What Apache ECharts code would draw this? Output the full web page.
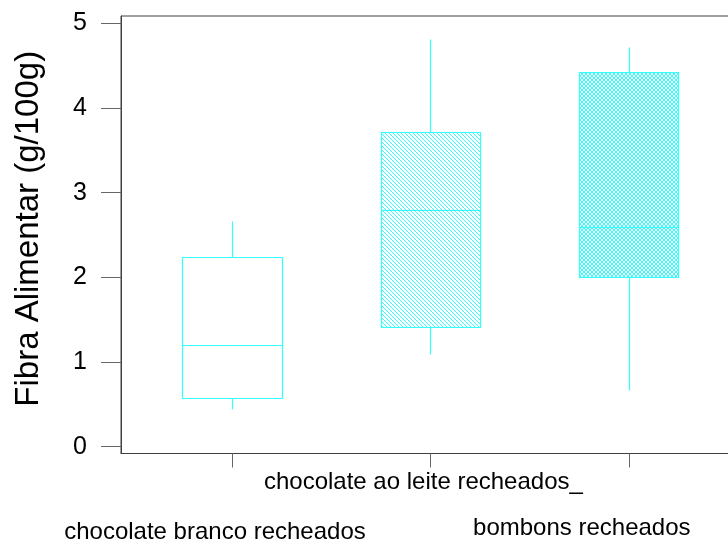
<!DOCTYPE html>
<html>
<head>
<meta charset="utf-8">
<script src="https://cdn.jsdelivr.net/npm/echarts@6/dist/echarts.min.js"></script>
<style>
  html, body { margin: 0; padding: 0; background: #ffffff; }
  #chart { width: 728px; height: 547px; }
</style>
</head>
<body>
<div id="chart"></div>
<script>
// Dietary fibre content (g/100g) of filled chocolate products
const categories = ['chocolate branco recheados', 'chocolate ao leite recheados_', 'bombons recheados'];
const whiskerLow  = [0.45, 1.09, 0.67];
const quartile1   = [0.575, 1.414, 2.00];
const medians     = [1.205, 2.79, 2.59];
const quartile3   = [2.237, 3.72, 4.43];
const whiskerHigh = [2.666, 4.82, 4.72];
const yTickValues = [0, 1, 2, 3, 4, 5];
const boxFills    = ['plain', 'hatch', 'cross'];

const CYAN = '#33ffff';
const FONT = "'Liberation Sans', Arial, sans-serif";

// small repeating tiles used as box fills
function makeTile(kind) {
  const size = 4;
  const c = document.createElement('canvas');
  c.width = size; c.height = size;
  const g = c.getContext('2d');
  g.fillStyle = '#ffffff';
  g.fillRect(0, 0, size, size);
  g.fillStyle = CYAN;
  if (kind === 'hatch' || kind === 'cross') {
    for (let i = 0; i < size; i++) g.fillRect(i, i, 1, 1);
  }
  if (kind === 'cross') {
    for (let i = 0; i < size; i++) g.fillRect(size - 1 - i, i, 1, 1);
  }
  return c;
}
const fillStyles = boxFills.map(k => k === 'plain' ? '#ffffff' : { image: makeTile(k), repeat: 'repeat' });

const boxData = categories.map((name, i) => [i + 1, whiskerLow[i], quartile1[i], medians[i], quartile3[i], whiskerHigh[i]]);

const crisp = v => Math.round(v) + 0.5;

function renderBox(params, api) {
  const x = api.value(0);
  const half = api.size([1, 0])[0] * 0.25;
  const pLow = api.coord([x, api.value(1)]);
  const pQ1 = api.coord([x, api.value(2)]);
  const pMed = api.coord([x, api.value(3)]);
  const pQ3 = api.coord([x, api.value(4)]);
  const pHigh = api.coord([x, api.value(5)]);
  const cx = crisp(pMed[0]);
  const left = crisp(pMed[0] - half);
  const right = crisp(pMed[0] + half);
  const top = crisp(pQ3[1]);
  const bottom = crisp(pQ1[1]);
  const lineStyle = { stroke: CYAN, lineWidth: 1.2 };
  return {
    type: 'group',
    children: [
      { type: 'line', shape: { x1: cx, y1: crisp(pHigh[1]), x2: cx, y2: top }, style: lineStyle },
      { type: 'line', shape: { x1: cx, y1: bottom, x2: cx, y2: crisp(pLow[1]) }, style: lineStyle },
      { type: 'rect', shape: { x: left, y: top, width: right - left, height: bottom - top },
        style: { fill: fillStyles[params.dataIndex], stroke: CYAN, lineWidth: 1.2 } },
      { type: 'line', shape: { x1: left, y1: crisp(pMed[1]), x2: right, y2: crisp(pMed[1]) }, style: lineStyle }
    ]
  };
}

const chart = echarts.init(document.getElementById('chart'), null, { renderer: 'canvas' });
chart.setOption({
  animation: false,
  backgroundColor: '#ffffff',
  grid: {
    left: 121, right: -1, top: 16, bottom: 93.5,
    show: true, borderColor: '#404040', borderWidth: 1,
    containLabel: false, outerBoundsMode: 'none'
  },
  xAxis: {
    type: 'value',
    min: 0.4408, max: 3.505,
    axisLine: { show: true, onZero: false, lineStyle: { color: '#404040', width: 1 } },
    axisTick: { show: true, length: 14, customValues: [1, 2, 3], lineStyle: { color: '#666666' } },
    splitLine: { show: false },
    axisLabel: {
      show: true,
      customValues: [1, 2, 3],
      margin: 17,
      color: '#000000',
      fontFamily: FONT,
      fontSize: 24,
      formatter: v => {
        const i = Math.round(v) - 1;
        return '{r' + i + '|' + categories[i] + '}';
      },
      rich: {
        r0: { fontSize: 24, fontFamily: FONT, color: '#000', padding: [50, 34, 0, 0] },
        r1: { fontSize: 24, fontFamily: FONT, color: '#000', padding: [0, 14, 0, 0] },
        r2: { fontSize: 24, fontFamily: FONT, color: '#000', padding: [46, 94, 0, 0] }
      }
    }
  },
  yAxis: {
    type: 'value',
    min: -0.08, max: 5.086,
    name: 'Fibra Alimentar (g/100g)',
    nameLocation: 'middle',
    nameGap: 76,
    nameTextStyle: { fontSize: 33, fontFamily: FONT, color: '#000000', padding: [0, 0, 0, 12] },
    axisLine: { show: true, onZero: false, lineStyle: { color: '#404040', width: 1 } },
    axisTick: { show: true, length: 20, customValues: yTickValues, lineStyle: { color: '#666666' } },
    splitLine: { show: false },
    axisLabel: {
      customValues: yTickValues,
      margin: 34,
      color: '#000000',
      fontFamily: FONT,
      fontSize: 25
    }
  },
  series: [{
    type: 'custom',
    renderItem: renderBox,
    data: boxData,
    encode: { x: 0, y: [1, 2, 3, 4, 5] },
    clip: false
  }]
});
</script>
</body>
</html>
